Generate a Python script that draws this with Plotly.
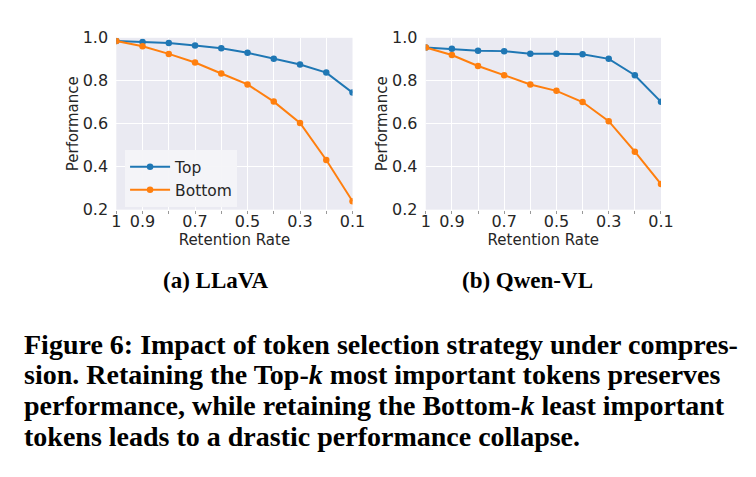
import plotly.graph_objects as go

retention = [1.0, 0.9, 0.8, 0.7, 0.6, 0.5, 0.4, 0.3, 0.2, 0.1]
x_tick_vals = [1.0, 0.9, 0.7, 0.5, 0.3, 0.1]
x_tick_text = ["1", "0.9", "0.7", "0.5", "0.3", "0.1"]
y_tick_vals = [0.2, 0.4, 0.6, 0.8, 1.0]
y_tick_text = ["0.2", "0.4", "0.6", "0.8", "1.0"]

llava_top = [0.985, 0.980, 0.976, 0.964, 0.951, 0.930, 0.903, 0.876, 0.838, 0.745]
llava_bottom = [0.985, 0.961, 0.925, 0.885, 0.834, 0.783, 0.703, 0.604, 0.431, 0.239]
qwen_top = [0.955, 0.949, 0.940, 0.938, 0.926, 0.926, 0.923, 0.902, 0.826, 0.702]
qwen_bottom = [0.955, 0.920, 0.869, 0.826, 0.783, 0.753, 0.701, 0.612, 0.470, 0.319]

subcaptions = ["(a) LLaVA", "(b) Qwen-VL"]
caption_lines = [
    "Figure 6: Impact of token selection strategy under compres-",
    "sion. Retaining the Top-<i>k</i> most important tokens preserves",
    "performance, while retaining the Bottom-<i>k</i> least important",
    "tokens leads to a drastic performance collapse.",
]

BLUE = "#1f77b4"
ORANGE = "#ff7f0e"
W, H = 756, 477

fig = go.Figure()

panels = [(llava_top, llava_bottom, "x", "y", True), (qwen_top, qwen_bottom, "x2", "y2", False)]
for top, bottom, xa, ya, show in panels:
    fig.add_trace(go.Scatter(x=retention, y=top, mode="lines+markers", name="Top",
                             line=dict(color=BLUE, width=2), marker=dict(size=6.5, color=BLUE),
                             xaxis=xa, yaxis=ya, showlegend=show))
    fig.add_trace(go.Scatter(x=retention, y=bottom, mode="lines+markers", name="Bottom",
                             line=dict(color=ORANGE, width=2), marker=dict(size=6.5, color=ORANGE),
                             xaxis=xa, yaxis=ya, showlegend=show))

tickfont = dict(family="DejaVu Sans", size=16, color="#262626")
titlefont = dict(family="DejaVu Sans", size=15, color="#262626")

def xaxis(domain, anchor):
    return dict(domain=domain, anchor=anchor, range=[1.0, 0.1],
                tickvals=x_tick_vals, ticktext=x_tick_text,
                showgrid=True, gridcolor="white", gridwidth=1, zeroline=False, showline=False,
                ticks="", tickfont=tickfont,
                minor=dict(tick0=0, dtick=0.1, ticks="outside", ticklen=3, tickwidth=1,
                           tickcolor="#999999", showgrid=True, gridcolor="white", gridwidth=1),
                title=dict(text="Retention Rate", font=titlefont, standoff=0))

def yaxis(anchor):
    return dict(domain=[1 - 209 / H, 1 - 30 / H], anchor=anchor, range=[0.2, 1.0],
                tickvals=y_tick_vals, ticktext=y_tick_text,
                showgrid=True, gridcolor="white", gridwidth=1, zeroline=False, showline=False,
                ticks="outside", ticklen=4, tickcolor="rgba(0,0,0,0)", tickfont=tickfont,
                title=dict(text="Performance", font=titlefont, standoff=0))

fig.update_layout(
    width=W, height=H,
    margin=dict(l=0, r=0, t=0, b=0),
    paper_bgcolor="white",
    plot_bgcolor="#EAEAF2",
    xaxis=xaxis([114 / W, 356 / W], "y"),
    yaxis=yaxis("x"),
    xaxis2=xaxis([431 / W, 672 / W], "y2"),
    yaxis2=yaxis("x2"),
    legend=dict(x=123 / W, y=1 - 147 / H, xanchor="left", yanchor="top",
                bgcolor="rgba(244,244,248,0.95)", borderwidth=0,
                font=dict(family="DejaVu Sans", size=15.5, color="#262626"),
                tracegroupgap=0, itemwidth=40),
    showlegend=True,
)

sub_x = [216, 535]
for txt, cx in zip(subcaptions, sub_x):
    fig.add_annotation(text="<b>" + txt + "</b>", x=cx / W, y=1 - 283 / H, xref="paper", yref="paper",
                       xanchor="center", yanchor="middle", showarrow=False,
                       font=dict(family="Liberation Serif", size=23, color="black"))

line_y = [349, 381, 413, 445]
for txt, ly in zip(caption_lines, line_y):
    fig.add_annotation(text="<b>" + txt + "</b>", x=17 / W, y=1 - ly / H, xref="paper", yref="paper",
                       xanchor="left", yanchor="middle", showarrow=False,
                       font=dict(family="Liberation Serif", size=28, color="black"))

fig.write_html("out.html")
